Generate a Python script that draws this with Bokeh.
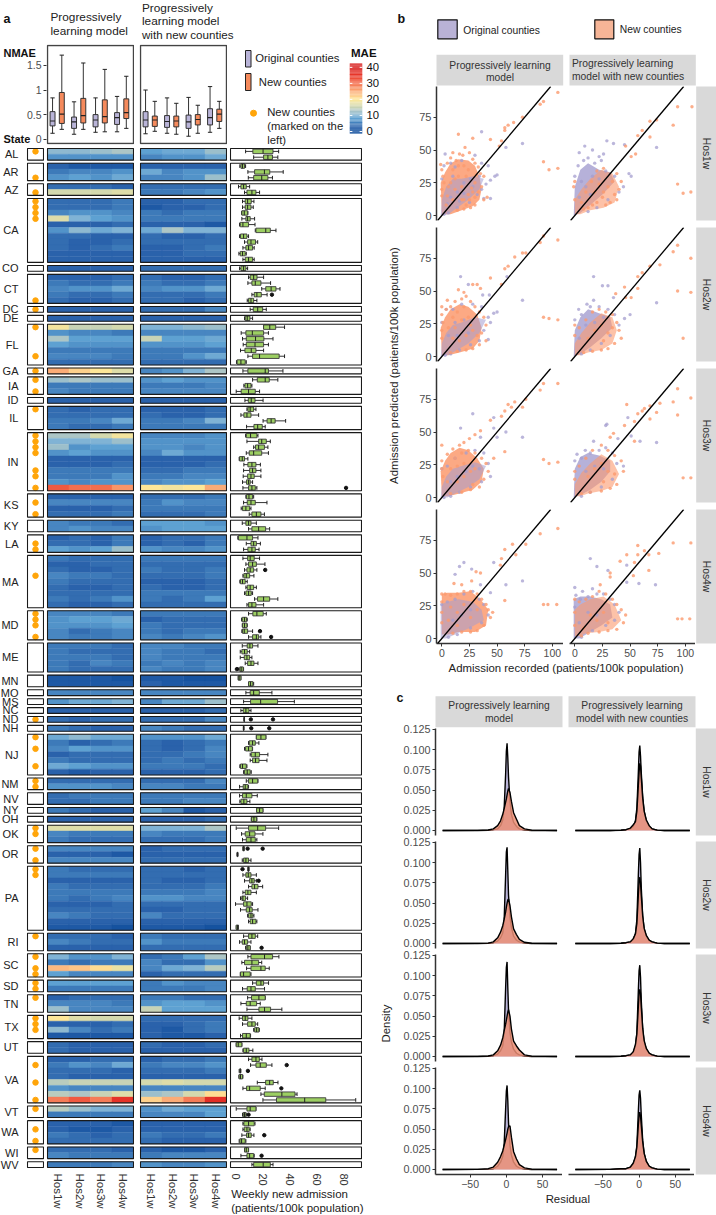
from bokeh.plotting import figure
from bokeh.models import Range1d, LinearAxis, FixedTicker, Column, Slope, LinearColorMapper, ColumnDataSource
from bokeh.transform import transform
from bokeh.core.properties import value
from bokeh.embed import file_html
from bokeh.resources import INLINE
import numpy as np, math

FONT = "Liberation Sans"
HORIZONS = ["Hos1w", "Hos2w", "Hos3w", "Hos4w"]
STATES = ["AL","AR","AZ","CA","CO","CT","DC","DE","FL","GA","IA","ID","IL","IN","KS","KY","LA","MA","MD","ME","MN","MO","MS","NC","ND","NH","NJ","NM","NV","NY","OH","OK","OR","PA","RI","SC","SD","TN","TX","UT","VA","VT","WA","WI","WV"]
STATE_ROWS = [2,3,2,11,1,5,1,1,7,1,3,1,4,10,4,2,3,9,5,5,2,1,1,1,1,1,7,2,2,1,1,3,3,11,3,4,2,3,4,2,8,2,4,2,1]
NEW_ROWS = [[0],[2],[1],[0,1,2,3],[],[4],[0],[],[0,5],[0],[0,2],[],[0],[0,1,2,3,6,7,9],[1,3],[],[1,2],[3],[0,1,2,4],[],[],[],[],[],[0],[],[0,2,5],[0,1],[],[],[],[0,1],[0,2],[0,1],[0],[0,2,3],[0,1],[0],[0,1,2],[],[1,4,7],[0],[1,3],[0],[]]

# MAE per county row: four horizons, progressively learning model
HEAT_A = [[11,11,12,13],[7,7,7,7],
[3,2,2,2],[5,6,6,7],[7,8,7,9],
[4,4,4,3],[16,16,16,17],
[4,4,4,5],[4,4,4,5],[6,7,7,6],[17,10,8,7],[3,3,3,4],[7,11,9,10],[4,4,3,3],[4,3,3,4],[4,3,4,5],[3,3,3,3],[3,3,3,3],
[3,3,3,3],
[3,3,3,4],[5,4,4,5],[6,7,7,9],[5,4,4,5],[4,3,3,4],
[3,3,3,3],[3,3,3,3],
[19,15,15,16],[7,6,6,5],[13,8,8,8],[8,7,7,7],[5,5,5,5],[6,6,6,5],[4,4,4,4],
[25,22,20,17],
[12,13,12,12],[5,5,5,5],[6,5,5,5],
[3,3,3,3],
[4,3,4,4],[4,4,4,4],[5,5,6,9],[5,4,4,5],
[13,13,16,19],[10,10,10,12],[12,7,8,8],[7,8,7,7],[3,3,3,3],[3,3,3,4],[5,5,5,5],[5,5,5,7],[7,6,7,7],[32,30,30,27],
[3,3,3,3],[6,6,6,6],[3,3,3,4],[4,4,4,5],
[6,5,5,4],[6,7,6,6],
[3,4,3,5],[4,4,3,5],[8,7,8,12],
[5,4,4,4],[3,3,4,4],[4,3,3,4],[6,5,5,4],[5,4,4,4],[4,3,3,4],[4,4,4,4],[5,4,5,7],[4,3,3,4],
[6,6,6,5],[7,8,8,9],[7,7,7,8],[6,4,5,6],[6,5,5,6],
[5,5,5,4],[5,4,4,4],[5,5,5,4],[5,4,6,5],[5,4,4,4],
[2,2,2,1],[2,2,2,2],
[6,6,6,6],[7,9,9,10],[3,3,3,3],[4,3,4,4],[5,4,3,3],
[9,11,9,9],[5,3,4,5],[6,8,7,7],[3,4,4,4],[5,4,4,4],[9,8,7,7],[3,2,3,3],
[4,4,4,4],[7,7,7,6],
[4,5,5,5],[4,4,5,5],
[5,4,3,3],[3,3,3,3],
[17,17,17,17],[6,5,5,5],[5,4,4,4],
[6,6,6,6],[3,3,3,2],[6,6,6,6],
[5,4,4,4],[5,5,5,5],[3,3,3,3],[5,4,4,4],[5,5,5,5],[5,4,5,6],[3,3,3,4],[4,4,4,4],[6,5,4,4],[3,3,3,3],[2,2,2,1],
[4,4,4,3],[6,5,4,4],[3,3,3,3],
[10,7,7,10],[5,4,5,5],[24,23,21,18],[8,6,6,6],
[8,8,8,8],[5,5,5,5],
[3,4,4,4],[6,6,6,5],[12,6,6,6],
[20,17,16,16],[3,3,3,4],[11,6,4,5],[2,2,2,2],
[4,3,3,3],[4,3,3,3],
[3,3,4,4],[5,7,6,9],[4,4,4,3],[4,3,3,3],[14,15,15,15],[7,6,6,6],[14,13,15,17],[29,32,29,36],
[14,12,10,10],[5,5,5,5],
[3,3,3,2],[3,2,2,3],[5,4,3,4],[4,4,4,4],
[4,4,4,3],[6,5,5,5],
[5,5,5,6]]

# MAE per county row: four horizons, model with new counties
HEAT_B = [[8,9,9,12],[6,7,7,9],
[3,3,3,3],[9,6,7,7],[6,6,7,12],
[4,4,4,4],[5,5,6,7],
[3,3,4,4],[2,3,3,4],[5,4,5,5],[5,5,5,5],[3,3,3,2],[9,13,10,10],[4,3,3,4],[4,4,4,4],[3,3,4,5],[3,3,4,4],[3,3,3,3],
[4,4,4,4],
[4,3,3,4],[5,4,4,5],[6,7,7,9],[4,4,4,5],[4,4,3,4],
[4,4,4,6],[3,3,3,3],
[10,10,11,12],[6,6,6,6],[15,8,8,9],[7,7,7,8],[5,5,5,5],[5,5,7,9],[4,4,4,4],
[6,7,10,13],
[7,8,7,7],[5,5,5,6],[6,6,6,6],
[3,3,3,3],
[3,3,3,4],[4,3,3,4],[5,5,6,10],[5,5,5,5],
[6,6,6,7],[7,7,7,7],[7,7,6,7],[6,9,7,7],[3,3,3,3],[3,3,3,4],[4,4,5,5],[5,5,6,6],[6,7,7,8],[20,19,20,25],
[4,4,4,5],[5,7,6,6],[5,5,5,5],[4,4,4,5],
[8,8,8,7],[7,8,8,8],
[3,4,4,5],[3,4,3,5],[7,6,6,7],
[5,5,5,5],[4,4,4,4],[5,4,4,5],[4,4,4,5],[3,3,3,4],[4,3,3,4],[5,5,5,5],[5,4,5,8],[4,4,4,4],
[5,5,5,5],[3,4,4,4],[5,4,4,4],[5,4,5,5],[6,5,6,7],
[6,6,5,5],[6,5,5,4],[6,5,5,5],[5,6,5,6],[6,5,5,6],
[2,2,1,1],[3,2,2,2],
[6,6,6,6],[6,9,9,12],[3,3,3,4],[4,4,4,6],[6,5,4,4],
[7,7,7,9],[4,3,4,5],[4,3,4,6],[4,4,5,6],[4,5,4,5],[5,5,5,4],[3,3,3,4],
[4,4,4,6],[6,6,5,5],
[5,5,5,5],[5,5,6,6],
[8,6,2,3],[3,3,3,4],
[10,10,10,13],[6,5,5,5],[4,4,4,5],
[3,4,4,4],[3,3,3,3],[4,4,4,4],
[4,4,3,4],[4,4,4,4],[4,3,3,4],[4,4,4,5],[5,5,5,6],[7,7,6,6],[4,4,4,4],[3,3,4,4],[6,4,4,4],[3,3,3,3],[2,2,2,1],
[5,4,4,4],[7,5,5,5],[4,4,4,4],
[4,5,8,13],[6,4,4,7],[6,9,10,14],[3,4,4,4],
[5,7,6,6],[5,5,5,6],
[5,5,4,4],[7,8,8,7],[15,8,8,8],
[4,4,4,4],[3,3,4,5],[3,2,4,5],[3,2,2,3],
[4,3,3,4],[3,3,3,3],
[3,4,4,5],[5,6,6,7],[4,4,4,5],[3,3,3,3],[16,17,16,16],[6,6,6,6],[12,13,16,21],[22,25,29,37],
[7,9,8,8],[6,6,6,8],
[3,3,3,3],[3,3,3,3],[5,4,4,5],[4,3,3,3],
[3,2,2,3],[5,6,6,6],
[7,6,6,7]]

# weekly new admission per county row: low whisker, q1, median, q3, high whisker
BOX_STATS = [(7,12.4,20,27.4,31.6),(13,20.4,23.6,27,31),
(2.7,3.5,4.7,6.2,7),(8.7,13.7,21,25,35),(9,13,19,23.6,27),
(1.7,3.5,5.5,7.5,10),(6.2,8,11.7,14.7,17.4),
(4.7,6.7,8.5,11.2,13.2),(4.7,6.7,8.5,11,12.7),(4,4.2,6,8.5,8.7),(4.2,7.2,8.5,10.4,13.7),(2.5,3,5,9.2,14),(14.2,14.7,22,25.4,29.6),(2.5,3.2,5.5,8,9.2),(6.2,8.5,11,14.4,16),(5,7.2,9.2,12.2,13.4),(2,3,4.7,6.7,7.5),(5,6.7,9.2,12.2,13.4),
(2.5,3.5,5.5,7.2,8.5),
(9.2,10.4,13,15.5,20.4),(8.7,11.7,14.2,18.4,25.6),(19,22,26,29.6,32.6),(11.7,13.4,15.4,18.7,23),(8.2,9.2,11,13,15.4),
(10.4,12.7,16,19.7,22.4),(6.2,6.7,8.2,10.2,12.2),
(20.4,20.4,25,29.4,36),(3.7,7.2,12,20.4,24),(4.7,7.5,14.4,20.6,27.4),(5.2,7.5,14,20.4,24),(3.2,6.5,11.2,14.7,20.4),(8.7,12.2,17.4,32,36),(.2,.7,3.5,6.7,7.5),
(5,8.7,21.6,24,34.8),
(12.2,15.7,21.6,24.6,31),(5.7,6.5,8.5,11,11.7),(0,3.7,9.2,14.2,17.4),
(6.5,9,11.2,14,20),
(8,8.7,10.4,13,14.7),(3.5,5.7,8,11,16.7),(20,23,26,29,36.8),(7.7,13.2,16,19.4,21.6),
(7,7.5,10.7,15.4,16.2),(8,16.7,19,22.4,25.4),(13,14.4,16.7,21,23.6),(7.5,9.7,13,19,24),(2.2,2.5,4.5,6.2,8.7),(5.7,8.7,11.7,14.7,18),(5.5,10,12.2,14.7,18.4),(5.2,8.5,11,13.4,18.4),(4.7,7.7,9.2,10.4,12.2),(5,9.2,11.7,14.2,15.4),
(7.2,7.7,9.5,12.2,13),(5.5,8.2,11,14.2,22.9),(3.7,4.7,7.2,10,11),(9.7,11.7,15,18.4,21),
(4.5,7.2,9.2,11,15),(9.2,11.7,16.7,21.9,24.9),
(1.2,1.7,8,12.2,16.2),(7.5,11,13,15,18),(5.5,8.7,11.7,14.2,17),
(5,8.5,10.4,13.4,17.4),(7.2,9.2,12.2,15,21.4),(6.2,8,10.4,13,15.4),(5,5.7,7.5,10,13.2),(2.7,3.2,4.7,6.7,8.2),(7.2,8.2,10.4,13,15),(6.2,7.2,9.2,11.2,12.2),(13.7,15.9,20.4,24.9,31),(8,9.2,11.7,14.7,20.4),
(9.2,12.4,15.4,20.1,22.4),(4,4.5,6.2,7.7,8.2),(4.5,4.7,6.2,8,8.2),(4.2,4.7,6,8.5,12.2),(9.2,12.2,15,16.7,18.4),
(4.5,8.2,10.2,12.2,16.2),(3,4.2,6.2,8.2,10),(3,6,8,10,11.7),(6.7,8.5,11,13.2,16.2),(2,2.7,3.7,5.2,5.5),
(1.5,1.5,2.2,3.5,3.5),(9.2,9.2,10.7,12.4,13),
(7.2,10.4,13,17.2,26.6),(5.5,10.7,18.2,30.8,43.3),(3.5,5.2,7.2,9.5,11),(5.8,5.8,6,6.1,6.2),(5.3,5.4,5.5,5.7,5.8),
(15,15,18.4,22.1,22.1),(9.2,9.7,12.2,14.2,16.9),(6.2,7,9.2,12,12.2),(10.4,11.2,14.2,17.4,23.6),(10.4,12.2,14.4,17,22.9),(2.7,3.2,4.7,7.5,8),(5.5,6.2,8.2,10.4,11.2),
(7.5,9.2,12.2,16,16.2),(2.5,5.2,6.7,8.7,9.2),
(2.5,4.7,7.5,11.7,15.7),(2.7,3.5,5.7,8,10.2),
(15.2,15.2,17.4,19.9,19.9),(11.2,11.4,13.2,15.2,15.4),
(0,9.2,16,21.9,31.6),(4,6.7,10,14,19.9),(4.7,7.5,11,14.2,15.4),
(5,5,5.5,6,6),(.6,.7,1,1.2,1.3),(4.5,5.5,7.2,9.2,11),
(8.7,8.7,9.2,9.5,9.5),(5,7.2,9,11,15),(6.2,10,11.7,13.4,15),(9.2,11.7,13.7,16.2,19.7),(5,6.7,8.7,11,15),(3.2,4.2,5,7,8.5),(-.5,5.5,8,11.2,12.2),(3.2,7.5,10,11.9,16.2),(8.5,9.2,11,12.4,13.2),(9.2,10.4,12.2,14.7,15.4),(0,0,1,1.7,1.7),
(5.5,9.2,11.7,14.2,16),(2.5,4.5,6.2,8.5,11),(7,7.5,8.7,10.4,10.4),
(8.7,11,21.1,27.1,31.8),(4.2,6.2,11.7,16.7,19),(7.7,11,18.4,21.6,24.6),(3,3.2,5.5,10.4,11),
(12.2,15,18.4,20.4,24.1),(4.7,8.2,11,14.2,21.1),
(8.5,11.4,16.9,21.6,21.6),(3.5,7.5,10.4,15.2,17.9),(8,16.9,21.1,25.6,34),
(2.2,4.7,6.7,8.7,11.7),(4.7,8.5,11.7,14.2,16),(13,13.7,15.2,16.9,17.2),(3.2,4.7,7.5,10.4,10.7),
(0,0,1.5,4.2,4.2),(5,5.5,7.5,9.5,12.4),
(9.2,11.7,14.7,17.2,19.2),(10.7,14.7,17.9,22.4,26.6),(2.2,2.7,3,3.2,3.5),(2,2.2,3.2,4.7,5),(15.7,21.9,24.9,27.6,31.1),(5,7.7,10,17.9,21.6),(18.4,20.9,34,43.8,45.3),(19.9,30,51,66.7,89),
(0,8,10.4,14.7,14.7),(4.7,5.2,6.2,7.2,7.5),
(5,5.7,9.2,13.4,14),(5,6,8,9.7,10.4),(4.2,7.7,9.2,11.2,13.2),(2.2,2.7,4,6.7,7.2),
(6.2,6.2,7.5,9.2,9.2),(3.5,8,10,13,13.4),
(11.7,13,20.1,25.4,27.4)]
BOX_OUTLIERS = [("CT",3,26.6),("IN",9,81.8),("MA",2,21.6),("MD",3,17.7),("MD",4,26),("ME",4,.5),("ND",0,10.9),("ND",0,27.4),("NH",0,11.2),("NH",0,24.6),("OR",0,8.5),("OR",0,19.7),("PA",0,4.7),("PA",2,16.7),("RI",2,18.9),("VA",1,37.6),("VA",2,8.7),("VA",5,33.6),("VT",1,9.2),("WA",2,20.9),("WI",1,18.9)]

# NMAE box statistics per horizon: low whisker, q1, median, q3, high whisker
NMAE_A_ORIG = [(.12,.27,.37,.56,.84),(.10,.22,.35,.45,.76),(.14,.25,.39,.50,.84),(.15,.30,.44,.54,.87)]
NMAE_A_NEW = [(.20,.32,.51,.95,1.71),(.20,.33,.48,.83,1.55),(.15,.33,.46,.80,1.42),(.22,.42,.54,.82,1.28)]
NMAE_B_ORIG = [(.11,.25,.39,.56,1.0),(.12,.24,.36,.48,.84),(.06,.22,.35,.49,.85),(.14,.29,.44,.62,1.07)]
NMAE_B_NEW = [(.16,.26,.39,.47,.77),(.10,.25,.37,.47,.73),(.12,.29,.40,.50,.69),(.22,.36,.51,.61,.77)]

# panel b, point readings (recorded, predicted) and outlines of the dense clouds
S1A_NEW = [(105,94),(92,87),(89,85),(73,75),(65,71),(60,69),(57,67),(57,65),(54,57),(52,53),(28,59),(15,62),(44,58),(92,41),(97,35),(105,36),(-1,39),(0,35),(1,30),(2,25),(0,20),(0,15),(5,40),(8,44),(10,48),(13,42),(16,47),(19,46),(21,52),(25,48),(28,43),(30,40),(33,37),(35,32),(38,30),(30,25),(36,22),(33,18),(41,14),(38,12),(30,8),(26,6),(20,5),(14,4),(18,12),(24,16),(27,21),(10,35),(15,38),(22,30),(12,28),(6,22),(20,38),(24,35),(5,15),(8,25),(12,20),(10,12),(15,30),(20,12),(25,12),(18,22),(28,18),(4,8),(22,8),(30,14)]
S1A_ORIG = [(36,64),(73,55),(58,52),(50,31),(48,30),(3,47),(2,38),(8,40),(0,28),(12,37),(18,42),(30,46),(36,40),(42,38),(34,30),(40,24),(36,20),(44,13),(38,13),(32,16),(25,10),(14,6),(6,2),(2,1),(44,27),(10,30),(20,25),(26,28),(8,14),(14,18),(20,17),(5,9),(16,11),(28,22)]
S1B_NEW = [(93,83),(106,83),(89,69),(74,73),(68,72),(61,65),(68,60),(57,61),(55,47),(51,45),(46,53),(93,24),(98,17),(105,18),(-1,22),(0,26),(28,8),(32,10),(38,12),(36,16),(40,20),(42,26),(38,32),(26,36),(20,34),(15,26),(10,18),(30,22),(25,14),(20,10),(16,8),(12,6),(8,5),(22,24),(18,18),(34,26),(26,18),(6,10),(0,12)]
S1B_ORIG = [(29,57),(9,53),(4,48),(16,50),(35,55),(45,54),(74,52),(51,30),(49,32),(22,45),(26,47),(8,42),(12,44),(18,40),(24,42),(3,38),(0,30),(28,34),(36,30),(44,22),(40,18),(30,12),(20,6),(12,3),(16,30),(6,26),(10,22),(14,16),(22,28),(4,14)]
S2A_NEW = [(105,89),(92,92),(89,87),(76,79),(73,79),(66,76),(60,69),(57,67),(44,60),(54,55),(92,30),(97,29),(105,28),(35,52),(28,55),(32,55),(20,49),(15,51),(5,43),(0,38),(0,32),(1,26),(0,20),(0,14),(4,36),(8,38),(12,42),(18,44),(22,46),(26,42),(30,38),(34,34),(38,30),(40,24),(36,18),(40,12),(34,9),(28,6),(22,5),(14,4),(8,3),(16,12),(22,16),(28,20),(10,30),(14,34),(6,22),(12,22),(18,28),(24,30),(20,38),(26,24),(32,16),(10,14)]
S2A_ORIG = [(17,61),(24,55),(59,61),(73,43),(50,34),(37,47),(43,47),(47,33),(4,36),(0,26),(10,36),(18,40),(28,40),(36,38),(42,30),(44,26),(38,20),(42,13),(34,12),(26,9),(16,5),(8,2),(3,1),(20,28),(12,26),(6,16),(14,16),(24,18)]
S2B_NEW = [(93,85),(105,75),(89,80),(77,70),(68,69),(61,64),(57,61),(57,52),(51,45),(45,53),(93,50),(105,49),(98,14),(46,45),(37,48),(0,24),(0,16),(4,22),(10,28),(16,34),(22,36),(28,34),(34,32),(38,26),(40,20),(42,14),(36,10),(30,6),(24,5),(16,4),(8,3),(12,14),(18,20),(24,24),(30,18),(26,12),(34,22)]
S2B_ORIG = [(17,61),(25,54),(30,54),(74,41),(50,32),(45,29),(3.5,36),(11,40),(17,43),(35,45),(0,28),(6,32),(14,38),(22,38),(30,36),(36,32),(40,24),(32,16),(24,10),(14,5),(6,2),(10,24),(18,26),(4,14),(26,30)]
S3A_NEW = [(105,87),(92,87),(89,82),(76,75),(66,73),(60,71),(63,69),(73,69),(57,66),(54,62),(44,59),(92,29),(97,26),(105,27),(57,35),(0,40),(35,51),(47,30),(30,48),(25,45),(20,42),(16,40),(10,37),(5,33),(0,28),(0,22),(1,16),(12,30),(18,34),(24,36),(30,34),(36,30),(40,26),(42,20),(38,14),(34,8),(26,6),(18,4),(8,3),(14,12),(20,16),(26,20),(8,22),(14,24),(20,26),(30,22),(5,12),(28,10)]
S3A_ORIG = [(28,64),(17,53),(47,61),(47,53),(58,50),(50,46),(73,46),(35,46),(0,22),(5,24),(12,30),(22,34),(30,36),(38,34),(42,26),(44,16),(36,12),(26,8),(16,4),(8,1),(2,0),(14,16),(22,20),(28,24),(34,22),(8,12)]
S3B_NEW = [(93,83),(105,76),(89,73),(77,72),(68,70),(63,68),(61,66),(47,71),(74,65),(68,60),(93,63),(57,64),(54,58),(45,55),(54,43),(98,15),(105,15),(35,49),(32,46),(0,20),(0,14),(4,24),(10,30),(16,36),(24,40),(30,36),(36,32),(42,28),(44,20),(38,10),(32,7),(24,5),(14,4),(6,3),(12,16),(18,22),(24,26),(30,20),(26,12),(36,18)]
S3B_ORIG = [(48,61),(29,56),(28,55),(51,47),(74,42),(59,43),(17,43),(9.5,36),(2,33),(39,45),(0,28),(6,30),(14,34),(22,36),(28,38),(34,34),(38,26),(44,24),(34,14),(24,8),(14,4),(6,1),(10,20),(18,24),(26,22)]
S4A_NEW = [(105,84),(89,80),(76,72),(64,72),(57,68),(67,64),(54,61),(53,56),(92,26),(96,26),(104,26),(57,29),(11,42),(35,50),(31,51),(18,41),(27,44),(0,34),(0,28),(0,20),(0,12),(3,34),(8,33),(14,34),(20,36),(26,36),(32,34),(36,30),(40,26),(42,22),(44,16),(46,20),(38,10),(32,6),(26,5),(18,5),(10,4),(8,24),(14,20),(20,26),(26,16),(32,22),(14,10),(6,14)]
S4A_ORIG = [(20,58),(16,55),(27,53),(12,49),(47,58),(58,41),(73,44),(35,41),(44,35),(0,26),(5,28),(12,30),(20,34),(28,36),(34,30),(38,26),(42,18),(36,12),(26,8),(14,3),(6,1),(10,14),(18,18),(26,22)]
S4B_NEW = [(105,73),(89,73),(76,65),(67,64),(63,67),(57,71),(57,64),(47,64),(41,59),(54,58),(67,52),(53,48),(93,15),(97,15),(104,15),(32,50),(32,47),(23,41),(0,30),(0,20),(0,10),(4,28),(10,30),(16,32),(22,36),(28,34),(34,30),(38,26),(42,22),(46,18),(44,12),(38,7),(30,6),(22,5),(12,4),(6,2),(14,18),(20,14),(26,20),(30,12),(8,8)]
S4B_ORIG = [(14,61),(20,55),(30,52),(47,56),(58,42),(73,41),(47,43),(0,39),(1,33),(7,36),(16,38),(0,24),(5,30),(12,32),(20,34),(26,34),(32,30),(36,26),(40,20),(36,14),(28,10),(16,6),(6,1),(12,20),(20,18),(4,12)]
H1A_NEW = [(0,1),(-1,25),(3,33),(8,40),(15,43),(24,42),(30,38),(34,30),(36,20),(34,12),(28,7),(18,4),(8,1)]
H1A_ORIG = [(-1,0),(0,12),(4,22),(10,28),(18,28),(28,30),(38,28),(34,20),(24,12),(14,6),(6,1)]
H1B_NEW = [(0,1),(0,12),(6,20),(14,28),(24,35),(34,32),(40,22),(36,10),(26,6),(14,4),(5,1)]
H1B_ORIG = [(-1,0),(0,22),(5,35),(12,40),(22,35),(32,33),(36,26),(25,16),(14,8),(5,2)]
H2A_NEW = [(0,1),(-1,22),(3,30),(8,36),(16,40),(24,38),(32,32),(36,22),(34,12),(28,6),(16,3),(6,1)]
H2A_ORIG = [(-1,0),(0,10),(4,18),(10,24),(18,26),(30,30),(40,28),(34,18),(24,10),(12,4),(5,1)]
H2B_NEW = [(0,1),(0,10),(6,18),(14,26),(24,33),(34,30),(38,20),(34,10),(24,5),(12,3),(5,1)]
H2B_ORIG = [(-1,0),(0,20),(5,30),(12,36),(22,33),(32,30),(34,22),(24,14),(14,7),(5,2)]
H3A_NEW = [(0,1),(-1,20),(3,28),(8,34),(16,38),(24,36),(32,30),(38,22),(36,12),(28,6),(16,3),(6,1)]
H3A_ORIG = [(-1,0),(0,8),(4,16),(10,22),(18,24),(30,27),(40,24),(34,14),(24,8),(12,3),(5,0)]
H3B_NEW = [(0,1),(0,10),(6,19),(14,26),(24,33),(34,28),(40,18),(34,8),(24,5),(12,3),(5,1)]
H3B_ORIG = [(-1,0),(0,22),(5,31),(12,34),(22,32),(32,28),(32,20),(24,12),(14,6),(5,2)]
H4A_NEW = [(0,3),(0,34),(5,35),(15,35),(26,36),(35,30),(42,22),(40,10),(30,5),(15,5),(6,3)]
H4A_ORIG = [(-1,0),(-1,26),(5,28),(15,30),(28,28),(36,22),(38,14),(25,8),(12,3),(4,0)]
H4B_NEW = [(0,2),(0,22),(5,26),(14,30),(26,32),(36,26),(42,14),(34,7),(22,5),(10,4),(4,2)]
H4B_ORIG = [(-1,0),(-1,30),(5,32),(14,32),(24,30),(32,26),(34,16),(24,10),(12,4),(4,0)]

# panel c, residual grid and density readings
DX = [-88,-40,-25,-18,-12,-8,-5,-3,-1,0,1,2,3,5,7,10,14,18,25,35,70]
D1A_ORIG=[0,0,.0003,.001,.002,.006,.013,.028,.07,.098,.108,.09,.066,.036,.02,.01,.005,.002,.0005,0,0]
D1A_NEW=[0,.0001,.0006,.002,.006,.012,.02,.027,.035,.039,.044,.049,.052,.047,.036,.022,.014,.006,.002,.0004,0]
D1B_ORIG=[0,0,.0004,.001,.002,.005,.012,.028,.072,.097,.105,.092,.072,.042,.024,.012,.005,.002,.0005,0,0]
D1B_NEW=[0,0,.0003,.001,.003,.007,.011,.024,.056,.072,.083,.08,.066,.04,.024,.013,.006,.002,.0005,0,0]
D2A_ORIG=[0,0,.0003,.001,.003,.007,.013,.03,.085,.113,.119,.09,.06,.033,.02,.009,.004,.002,.0005,0,0]
D2A_NEW=[0,.0001,.0005,.002,.007,.014,.022,.03,.039,.045,.05,.054,.055,.047,.033,.018,.011,.005,.0015,.0003,0]
D2B_ORIG=[0,0,.0003,.001,.002,.005,.012,.03,.085,.11,.118,.1,.07,.034,.018,.009,.004,.002,.0005,0,0]
D2B_NEW=[0,0,.0003,.001,.002,.006,.012,.025,.06,.076,.082,.075,.06,.034,.019,.01,.004,.002,.0005,0,0]
D3A_ORIG=[0,0,.0003,.001,.003,.007,.013,.03,.085,.11,.117,.085,.058,.03,.018,.009,.004,.002,.0004,0,0]
D3A_NEW=[0,.0001,.0006,.002,.007,.014,.023,.032,.04,.045,.05,.055,.058,.05,.034,.019,.013,.008,.002,.0004,0]
D3B_ORIG=[0,0,.0003,.001,.002,.005,.013,.03,.082,.106,.113,.098,.07,.034,.018,.009,.004,.002,.0005,0,0]
D3B_NEW=[0,0,.0003,.001,.002,.006,.015,.028,.062,.078,.083,.078,.062,.035,.02,.01,.004,.002,.0005,0,0]
D4A_ORIG=[0,.0002,.0005,.001,.004,.009,.016,.032,.075,.097,.104,.085,.058,.03,.018,.009,.004,.002,.0004,0,0]
D4A_NEW=[0,.0002,.001,.003,.009,.016,.023,.03,.037,.041,.045,.05,.053,.054,.04,.022,.013,.006,.002,.0004,0]
D4B_ORIG=[0,.0002,.001,.001,.003,.007,.015,.03,.072,.092,.098,.088,.068,.036,.02,.01,.004,.002,.0005,0,0]
D4B_NEW=[0,.0002,.001,.001,.003,.008,.016,.028,.055,.066,.071,.066,.055,.034,.02,.01,.004,.002,.0005,0,0]

assert sum(STATE_ROWS) == len(HEAT_A) == len(HEAT_B) == len(BOX_STATS), (sum(STATE_ROWS), len(HEAT_A), len(HEAT_B), len(BOX_STATS))

GAP = 0.53
INK = "#222222"
AXIS_TEXT = "#4d4d4d"
STRIP = "#d9d9d9"
ORIG, NEW = "#b9b4d8", "#f58a5c"

figs = []
def panel(x0, x1, y0, y1, xr, yr, pad=0, l=0, r=0, t=0, b=0):
    w = round(x1 - x0) + 2 * pad
    h = round(y1 - y0) + 2 * pad
    xu = (xr[1] - xr[0]) / round(x1 - x0)
    yu = (yr[1] - yr[0]) / round(y1 - y0)
    p = figure(frame_width=w, frame_height=h, output_backend="svg", toolbar_location=None,
               x_range=Range1d(xr[0] - pad * xu, xr[1] + pad * xu),
               y_range=Range1d(yr[0] - pad * yu, yr[1] + pad * yu),
               x_axis_location=None, y_axis_location=None, title=None, frame_align=False,
               min_border=0, min_border_left=l, min_border_right=r, min_border_top=t, min_border_bottom=b,
               background_fill_color=None, border_fill_color=None, outline_line_color=None,
               styles={"position": "absolute", "left": f"{round(x0) - pad - l}px", "top": f"{round(y0) - pad - t}px"})
    p.grid.visible = False
    figs.append(p)
    return p

def axis(p, side, ticks, overrides=None, size="10.5px", color=AXIS_TEXT, line=True, tick=True,
         standoff=2, vertical=False, tick_color="#333333", tick_in=0, tick_out=3, line_width=1.5):
    ax = LinearAxis(ticker=FixedTicker(ticks=ticks))
    ax.major_label_text_font = FONT
    ax.major_label_text_font_size = size
    ax.major_label_text_color = color
    ax.major_label_standoff = standoff
    ax.minor_tick_line_color = None
    ax.major_tick_in = tick_in
    ax.major_tick_out = tick_out if tick else 0
    ax.major_tick_line_color = tick_color if tick else None
    ax.major_tick_line_width = 1
    ax.axis_line_color = "#333333" if line else None
    ax.axis_line_width = line_width
    if overrides:
        ax.major_label_overrides = overrides
    if vertical:
        ax.major_label_orientation = "vertical"
    p.add_layout(ax, side)
    return ax

# ---------- full page layer for texts, strips and legends ----------
base = panel(0, 716, 0, 1215, (0, 716), (1215, 0))
def txt(x, y, s, size=11, weight="normal", color="#111111", align="left", angle=0):
    base.text(x=[x], y=[y], text=[s], text_font=value(FONT), text_font_size=f"{size}px", text_font_style=weight,
              text_color=color, text_align=align, text_baseline="middle", angle=angle)

txt(3, 18, "a", 12.5, "bold"); txt(397, 18, "b", 12.5, "bold"); txt(396, 697, "c", 12.5, "bold")
txt(50, 16.5, "Progressively", 11.8, color="#222222"); txt(50, 30, "learning model", 11.8, color="#222222")
txt(141.5, 7, "Progressively", 11.8, color="#222222"); txt(141.5, 20, "learning model", 11.8, color="#222222"); txt(141.5, 34, "with new counties", 11.6, color="#222222")
txt(3, 52, "NMAE", 11, "bold"); txt(3, 138, "State", 11, "bold"); txt(350.5, 52.7, "MAE", 11.5, "bold")
base.quad(left=[245], right=[250.5], top=[50], bottom=[66.5], fill_color=ORIG, line_color=INK, line_width=1)
base.quad(left=[245], right=[250.5], top=[73], bottom=[90], fill_color=NEW, line_color=INK, line_width=1)
txt(254.7, 57.5, "Original counties", 11.3, color="#222222"); txt(258.3, 81.5, "New counties", 11.3, color="#222222")
base.scatter(x=[253], y=[112.7], size=6, color="#ffa50a")
txt(266.7, 111.7, "New counties", 11.3, color="#222222"); txt(266.7, 125, "(marked on the", 11.3, color="#222222"); txt(266.7, 139, "left)", 11.3, color="#222222")
txt(230.7, 1193.3, "Weekly new admission", 11.5, color="#222222"); txt(230.7, 1207.7, "(patients/100k population)", 11.5, color="#222222")
base.quad(left=[437.3], right=[456.7], top=[19.3], bottom=[38.3], fill_color="#b9b2d6", line_color="#111111", line_width=1.2)
base.quad(left=[594.3], right=[613.3], top=[19.3], bottom=[38.3], fill_color="#f6b597", line_color="#111111", line_width=1.2)
txt(462.7, 29.5, "Original counties", 10.3, color="#222222"); txt(619.3, 29, "New counties", 10.3, color="#222222")

def strip(x0, x1, y0, y1):
    base.quad(left=[x0], right=[x1], top=[y0], bottom=[y1], fill_color=STRIP, line_color=None)
strip(436, 562.7, 54.3, 85); strip(569, 695.3, 54.3, 85); strip(435, 562, 695.7, 726.7); strip(568, 695, 695.7, 726.7)
txt(499.5, 64.5, "Progressively learning", 10.3, color="#333333", align="center"); txt(499.5, 77, "model", 10.3, color="#333333", align="center")
txt(571.5, 63, "Progressively learning", 10.3, color="#333333"); txt(571.5, 75.5, "model with new counties", 10.3, color="#333333")
txt(498.5, 705, "Progressively learning", 10.3, color="#333333", align="center"); txt(498.5, 717.5, "model", 10.3, color="#333333", align="center")
txt(631.5, 705, "Progressively learning", 10.3, color="#333333", align="center"); txt(631.5, 717.5, "model with new counties", 10.3, color="#333333", align="center")
SC_ROWS = [(86, 220), (227, 361), (368, 502), (509, 643)]
DN_ROWS = [(728, 835), (841, 948), (954, 1061), (1067, 1174)]
for hz, (a, c) in zip(HORIZONS, SC_ROWS):
    strip(695.7, 716, a, c); txt(705.5, (a + c) / 2, hz, 10.3, color="#333333", align="center", angle=-math.pi / 2)
for hz, (a, c) in zip(HORIZONS, DN_ROWS):
    strip(695.3, 716, a, c); txt(705.5, (a + c) / 2, hz, 10.3, color="#333333", align="center", angle=-math.pi / 2)
txt(393, 365, "Admission predicted (patients/100k population)", 11.4, color="#222222", align="center", angle=math.pi / 2)
txt(565.5, 667.7, "Admission recorded (patients/100k population)", 11.4, color="#222222", align="center")
txt(385.7, 1023, "Density", 11.4, color="#222222", align="center", angle=math.pi / 2)
txt(567.3, 1198.3, "Residual", 11.4, color="#222222", align="center")

# ---------- panel a: NMAE boxes ----------
def nmae(x0, x1, orig, new, with_axis):
    p = panel(x0, x1, 45.3, 143, (0.55, 4.55), (-0.088, 1.906), pad=1, l=40 if with_axis else 0, b=8)
    p.quad(left=[0.55], right=[4.55], top=[1.906], bottom=[-0.088], fill_color=None, line_color="#444444", line_width=1.4)
    for stats, off, col in ((orig, -0.215, ORIG), (new, 0.215, NEW)):
        pos = [i + 1 + off for i in range(4)]
        lo, q1, med, q3, hi = [list(c) for c in zip(*stats)]
        p.segment(pos, lo, pos, hi, line_color="#333333", line_width=1)
        for v in (lo, hi):
            p.segment([q - .1 for q in pos], v, [q + .1 for q in pos], v, line_color="#222222", line_width=1)
        p.quad(left=[q - .115 for q in pos], right=[q + .115 for q in pos], bottom=q1, top=q3, fill_color=col, line_color="#333333", line_width=1)
        p.segment([q - .115 for q in pos], med, [q + .115 for q in pos], med, line_color="#222222", line_width=1.2)
    if with_axis:
        axis(p, "left", [0, .5, 1, 1.5], {0: "0", 0.5: "0.5", 1: "1", 1.5: "1.5"}, line=False, standoff=2, size="10.5px")
nmae(47, 133.3, NMAE_A_ORIG, NMAE_A_NEW, True)
nmae(140.3, 226.7, NMAE_B_ORIG, NMAE_B_NEW, False)

# ---------- panel a: state rows ----------
state_top, t = [], 0.0
for n in STATE_ROWS:
    state_top.append(t); t += n + GAP
TOTAL = t - GAP
row_y = [state_top[i] + j + 0.5 for i, n in enumerate(STATE_ROWS) for j in range(n)]
PANEL_TOP, PANEL_BOTTOM = 147.7, 1167

def frames(p, xa, xb):
    p.quad(left=[xa] * len(STATES), right=[xb] * len(STATES), top=state_top,
           bottom=[a + n for a, n in zip(state_top, STATE_ROWS)], fill_color=None, line_color="#1a1a1a", line_width=1.1)

# dots and state labels
dots = panel(27.3, 43.7, PANEL_TOP, PANEL_BOTTOM, (0, 1), (TOTAL, 0), pad=1, l=34, t=8, b=8)
dot_y = [state_top[i] + j + .5 for i, rows in enumerate(NEW_ROWS) for j in rows]
dots.scatter(x=[.5] * len(dot_y), y=dot_y, size=5.5, color="#ffa50a")
frames(dots, 0, 1)
centers = [a + n / 2 for a, n in zip(state_top, STATE_ROWS)]
axis(dots, "left", centers, {c: s for c, s in zip(centers, STATES)}, size="11px", color="#222222", line=False, tick=False, standoff=8)

# heat maps
MAE_STOPS = [0, 3, 5, 8, 10, 13, 16, 20, 24, 30, 35, 40]
MAE_COLORS = ["#0b4a9a", "#2a62ab", "#3d7ab9", "#5ea1d2", "#7fb3d5", "#adc6c6", "#d4d9ae", "#fee898", "#fdb980", "#f4704f", "#e9382b", "#d8201f"]
def rgb(h):
    return [int(h[i:i + 2], 16) for i in (1, 3, 5)]
stops_rgb = np.array([rgb(c) for c in MAE_COLORS], float)
scale = np.linspace(0, 40, 256)
PALETTE = ["#%02x%02x%02x" % tuple(int(round(np.interp(v, MAE_STOPS, stops_rgb[:, k]))) for k in range(3)) for v in scale]
mapper = LinearColorMapper(palette=PALETTE, low=0, high=40)

def heat(x0, x1, table):
    p = panel(x0, x1, PANEL_TOP, PANEL_BOTTOM, (0.5, 4.5), (TOTAL, 0), pad=1, b=45)
    xs, ys, vs = [], [], []
    for y, vals in zip(row_y, table):
        for h, v in enumerate(vals):
            xs.append(h + 1); ys.append(y); vs.append(v)
    src = ColumnDataSource(dict(x=xs, y=ys, v=vs))
    p.rect(x="x", y="y", width=1, height=1, source=src, fill_color=transform("v", mapper),
           line_color=transform("v", mapper), line_width=0.4)
    frames(p, 0.5, 4.5)
    axis(p, "below", [1, 2, 3, 4], {1: "Hos1w", 2: "Hos2w", 3: "Hos3w", 4: "Hos4w"}, size="11.5px", color="#333333",
         line=False, tick=False, standoff=5, vertical=True)
heat(47, 133.3, HEAT_A)
heat(140.3, 226.7, HEAT_B)

# weekly admission boxes
box = panel(230.3, 361, PANEL_TOP, PANEL_BOTTOM, (-4.25, 93.3), (TOTAL, 0), pad=1, b=45)
lo, q1, med, q3, hi = [list(c) for c in zip(*BOX_STATS)]
box.segment(lo, row_y, hi, row_y, line_color="#333333", line_width=1)
for v in (lo, hi):
    box.segment(v, [y - .32 for y in row_y], v, [y + .32 for y in row_y], line_color="#222222", line_width=1)
box.quad(left=q1, right=q3, top=[y - .38 for y in row_y], bottom=[y + .38 for y in row_y], fill_color="#9ccf62", line_color="#3a3a3a", line_width=0.9)
box.segment(med, [y - .38 for y in row_y], med, [y + .38 for y in row_y], line_color="#222222", line_width=1)
ox = [v for _, _, v in BOX_OUTLIERS]
oy = [state_top[STATES.index(s)] + j + .5 for s, j, _ in BOX_OUTLIERS]
box.scatter(ox, oy, size=3.4, color="#111111")
frames(box, -4.25, 93.3)
axis(box, "below", [0, 20, 40, 60, 80], size="11px", color="#333333", line=False, tick=False, standoff=5, vertical=True)

# colour bar
cbar = panel(349, 362, 63, 133, (0, 1), (-1.25, 42.4), r=30, t=8, b=8)
steps = np.linspace(-1.25, 42.4, 90)
cbar.rect(x=[.5] * len(steps), y=steps, width=1, height=(42.4 + 1.25) / 89 * 1.1,
          fill_color=[PALETTE[int(min(255, max(0, v / 40 * 255)))] for v in steps], line_color=None)
ticks = [0, 10, 20, 30, 40]
cbar.segment([0] * 5, ticks, [.22] * 5, ticks, line_color="white", line_width=1)
cbar.segment([.78] * 5, ticks, [1] * 5, ticks, line_color="white", line_width=1)
axis(cbar, "right", ticks, size="11.3px", color="#111111", line=False, tick=False, standoff=4)

# ---------- panel b ----------
SCATTER = [
    [(S1A_NEW, S1A_ORIG, H1A_NEW, H1A_ORIG), (S1B_NEW, S1B_ORIG, H1B_NEW, H1B_ORIG)],
    [(S2A_NEW, S2A_ORIG, H2A_NEW, H2A_ORIG), (S2B_NEW, S2B_ORIG, H2B_NEW, H2B_ORIG)],
    [(S3A_NEW, S3A_ORIG, H3A_NEW, H3A_ORIG), (S3B_NEW, S3B_ORIG, H3B_NEW, H3B_ORIG)],
    [(S4A_NEW, S4A_ORIG, H4A_NEW, H4A_ORIG), (S4B_NEW, S4B_ORIG, H4B_NEW, H4B_ORIG)],
]
SC_COLS = [(436, 563, (-4.8, 110.1)), (569, 695, (-4.8, 109.2))]
for r, (ya, yb) in enumerate(SC_ROWS):
    for c, (xa, xb, xr) in enumerate(SC_COLS):
        new, orig, hnew, horig = SCATTER[r][c]
        p = panel(xa, xb, ya, yb, xr, (-3.8, 98.5), l=30 if c == 0 else 0, b=25 if r == 3 else 8)
        hull_new = dict(fill_color="#fb9a6e", fill_alpha=.85 if c == 0 else .6, line_color=None)
        hull_orig = dict(fill_color="#a49dcf", fill_alpha=.55 if c == 0 else .8, line_color=None)
        order = [(hnew, hull_new), (horig, hull_orig)] if c == 0 else [(horig, hull_orig), (hnew, hull_new)]
        for hull, style in order:
            p.patch([a for a, _ in hull], [b for _, b in hull], **style)
        p.scatter([a for a, _ in orig], [b for _, b in orig], size=3.4, color="#a49dcf", alpha=.75, line_color=None)
        p.scatter([a for a, _ in new], [b for _, b in new], size=3.4, color="#fb9a6e", alpha=.8, line_color=None)
        p.add_layout(Slope(gradient=1, y_intercept=0, line_color="black", line_width=1.3))
        if c == 0:
            axis(p, "left", [0, 25, 50, 75], size="11px", standoff=2)
        if r == 3:
            axis(p, "below", [0, 25, 50, 75, 100], size="10.5px", standoff=2)

# ---------- panel c ----------
DENSITY = [
    [(D1A_ORIG, D1A_NEW), (D1B_ORIG, D1B_NEW)],
    [(D2A_ORIG, D2A_NEW), (D2B_ORIG, D2B_NEW)],
    [(D3A_ORIG, D3A_NEW), (D3B_ORIG, D3B_NEW)],
    [(D4A_ORIG, D4A_NEW), (D4B_ORIG, D4B_NEW)],
]
DN_COLS = [(435, 562, (-97.8, 77.5)), (568, 694, (-97.4, 76.5))]
for r, (ya, yb) in enumerate(DN_ROWS):
    for c, (xa, xb, xr) in enumerate(DN_COLS):
        orig, new = DENSITY[r][c]
        p = panel(xa, xb, ya, yb, xr, (-0.0062, 0.1262), l=36 if c == 0 else 0, t=8, b=22 if r == 3 else 8)
        p.varea(x=DX, y1=[0] * len(DX), y2=orig, fill_color=ORIG)
        p.line(DX, orig, line_color="black", line_width=1.4)
        p.varea(x=DX, y1=[0] * len(DX), y2=new, fill_color="#ec8f75", fill_alpha=.85)
        p.line(DX, new, line_color="black", line_width=1.4)
        if c == 0:
            axis(p, "left", [0, .025, .05, .075, .1, .125], {0: "0.000", .025: "0.025", .05: "0.050", .075: "0.075", .1: "0.100", .125: "0.125"}, size="10.8px", standoff=2)
        if r == 3:
            axis(p, "below", [-50, 0, 50], {-50: "\u221250", 0: "0", 50: "50"}, size="10.5px", standoff=2)

root = Column(children=figs, width=716, height=1215, styles={"position": "absolute", "left": "0px", "top": "0px"})
open("out.html", "w").write(file_html(root, INLINE))
